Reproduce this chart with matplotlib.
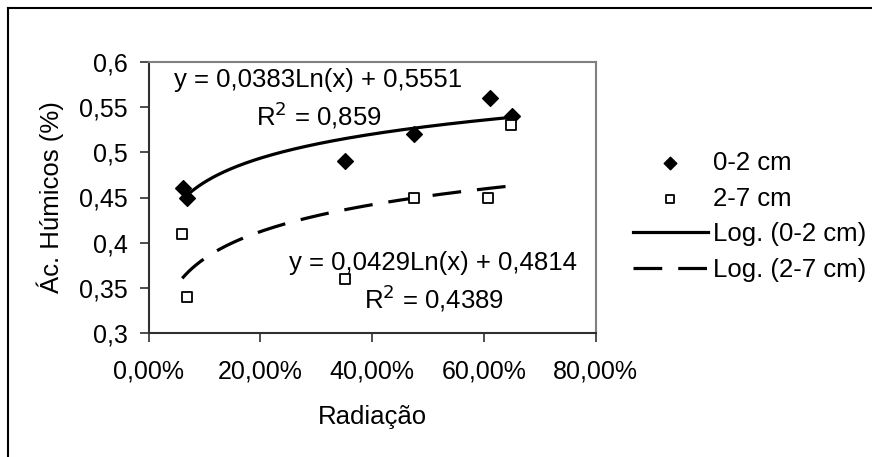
import numpy as np
import matplotlib
matplotlib.use("Agg")
import matplotlib.pyplot as plt
from matplotlib.lines import Line2D
from matplotlib.ticker import FuncFormatter

plt.rcParams['font.family'] = ['Liberation Sans', 'DejaVu Sans']

# Data
x_02 = [0.062, 0.069, 0.352, 0.474, 0.610, 0.650]
y_02 = [0.46, 0.45, 0.49, 0.52, 0.56, 0.54]
x_27 = [0.060, 0.068, 0.351, 0.474, 0.608, 0.648]
y_27 = [0.41, 0.34, 0.36, 0.45, 0.45, 0.53]
coef_02 = [0.0383, 0.5551]
coef_27 = [0.0429, 0.4814]
r2_02 = "0,859"
r2_27 = "0,4389"
labels = ["0-2 cm", "2-7 cm", "Log. (0-2 cm)", "Log. (2-7 cm)"]
xticks = [0.0, 0.2, 0.4, 0.6, 0.8]
yticks = [0.3, 0.35, 0.4, 0.45, 0.5, 0.55, 0.6]

FS_T = 18
FS = 18.5
W, H = 872, 457
fig = plt.figure(figsize=(W / 100, H / 100), dpi=100)

# Outer chart border (top and left only visible)
fig.add_artist(Line2D([8 / W, 1], [1 - 8 / H, 1 - 8 / H], color='black', lw=1.5, transform=fig.transFigure))
fig.add_artist(Line2D([8 / W, 8 / W], [0, 1 - 8 / H], color='black', lw=1.5, transform=fig.transFigure))

l, r, t, b = 148.7, 595.7, 61.7, 333.3
ax = fig.add_axes([l / W, 1 - b / H, (r - l) / W, (b - t) / H])

ax.scatter(x_02, y_02, marker='D', s=64, color='black', zorder=3, label=labels[0])
ax.scatter(x_27, y_27, marker='s', s=60, facecolor='white', edgecolor='black', linewidths=1.3, zorder=3, label=labels[1])

xs1 = np.linspace(min(x_02), max(x_02), 200)
xs2 = np.linspace(min(x_27), max(x_27), 200)
ax.plot(xs1, coef_02[0] * np.log(xs1) + coef_02[1], color='black', lw=2.3, label=labels[2], zorder=2)
ax.plot(xs2, coef_27[0] * np.log(xs2) + coef_27[1], color='black', lw=2.3, dashes=(9, 5), label=labels[3], zorder=2)

ax.set_xlim(0, 0.8)
ax.set_ylim(0.3, 0.6)
ax.set_xticks(xticks)
ax.set_yticks(yticks)
ax.xaxis.set_major_formatter(FuncFormatter(lambda v, p: f"{v*100:.2f}%".replace('.', ',')))
ax.yaxis.set_major_formatter(FuncFormatter(lambda v, p: f"{v:g}".replace('.', ',')))
ax.tick_params(axis='both', direction='out', length=6.5, width=1.2, labelsize=FS_T, color='#303030')
ax.tick_params(axis='x', pad=12.5)
ax.tick_params(axis='y', pad=8.5)

for s in ['left', 'bottom']:
    ax.spines[s].set_color('#303030')
    ax.spines[s].set_linewidth(1.5)
for s in ['top', 'right']:
    ax.spines[s].set_color('#808080')
    ax.spines[s].set_linewidth(1.5)

ax.set_xlabel("Radiação", fontsize=FS, labelpad=15)
ax.set_ylabel("Ác. Húmicos (%)", fontsize=FS, labelpad=11)

ax.text(0.38, 0.933, "y = 0,0383Ln(x) + 0,5551", transform=ax.transAxes, ha='center', va='center', fontsize=FS)
ax.text(0.38, 0.804, "R$^2$ = " + r2_02, transform=ax.transAxes, ha='center', va='center', fontsize=FS)
ax.text(0.636, 0.259, "y = 0,0429Ln(x) + 0,4814", transform=ax.transAxes, ha='center', va='center', fontsize=FS)
ax.text(0.639, 0.13, "R$^2$ = " + r2_27, transform=ax.transAxes, ha='center', va='center', fontsize=FS)

leg = fig.legend(loc='upper left', bbox_to_anchor=(633 / W, 1 - 151 / H), frameon=False,
                 fontsize=FS, handlelength=2.9, handletextpad=0.2, labelspacing=0.45,
                 borderpad=0, borderaxespad=0, markerscale=0.8)

fig.savefig("out.png", dpi=100)
